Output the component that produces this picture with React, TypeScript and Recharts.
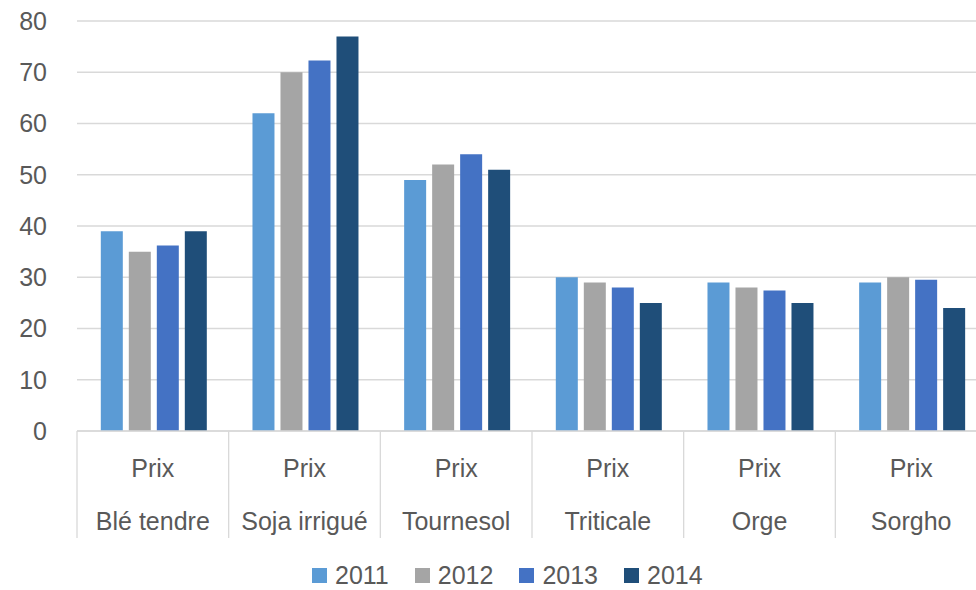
import { BarChart, Bar, XAxis, YAxis, CartesianGrid, Legend } from 'recharts';

const CATEGORIES = ['Blé tendre', 'Soja irrigué', 'Tournesol', 'Triticale', 'Orge', 'Sorgho'];
const SUB_LABEL = 'Prix';
const YEARS = ['2011', '2012', '2013', '2014'];
const V2011 = [39, 62, 49, 30, 29, 29];
const V2012 = [35, 70, 52, 29, 28, 30];
const V2013 = [36.2, 72.3, 54, 28, 27.4, 29.5];
const V2014 = [39, 77, 51, 25, 25, 24];
const Y_TICKS = [0, 10, 20, 30, 40, 50, 60, 70, 80];

const COLORS = ['#5B9BD5', '#A5A5A5', '#4472C4', '#1F4E79'];
const TEXT = '#595959';
const GRID = '#D9D9D9';
const FONT = '"Liberation Sans", Arial, sans-serif';

const W = 1000;
const H = 590;
const MARGIN = { top: 21, right: 13, left: 0, bottom: 49 };
const Y_W = 77;
const X_H = 110;
const STEP = (W - MARGIN.left - MARGIN.right - Y_W) / CATEGORIES.length;

const rows = CATEGORIES.map((name, i) => ({
  name,
  y2011: V2011[i],
  y2012: V2012[i],
  y2013: V2013[i],
  y2014: V2014[i],
}));

function CategoryTick({ x, y, payload }: { x?: number; y?: number; payload?: { value: string } }) {
  const cx = x ?? 0;
  const cy = y ?? 0;
  const left = cx - STEP / 2;
  return (
    <g>
      <line x1={left} y1={cy} x2={left} y2={cy + 107} stroke={GRID} strokeWidth={1.3} />
      <text x={cx} y={cy + 37} textAnchor="middle" dominantBaseline="central" fill={TEXT} fontSize={25} fontFamily={FONT}>
        {SUB_LABEL}
      </text>
      <text x={cx} y={cy + 90} textAnchor="middle" dominantBaseline="central" fill={TEXT} fontSize={25} fontFamily={FONT}>
        {payload?.value}
      </text>
    </g>
  );
}

function YearLegend() {
  return (
    <div
      style={{
        display: 'flex',
        alignItems: 'center',
        fontFamily: FONT,
        fontSize: 25,
        lineHeight: '24px',
        height: 24,
        whiteSpace: 'nowrap',
        color: TEXT,
      }}
    >
      {YEARS.map((yr, i) => (
        <div key={yr} style={{ display: 'flex', alignItems: 'center', marginRight: i < YEARS.length - 1 ? 26 : 0 }}>
          <span style={{ width: 15, height: 15, background: COLORS[i], display: 'inline-block', marginRight: 8 }} />
          <span>{yr}</span>
        </div>
      ))}
    </div>
  );
}

export default function App() {
  const keys = ['y2011', 'y2012', 'y2013', 'y2014'];
  return (
    <div style={{ position: 'fixed', left: 0, top: 0, width: 976, height: 590, overflow: 'hidden', background: '#fff' }}>
      <BarChart width={W} height={H} data={rows} margin={MARGIN} barCategoryGap="15.7%" barGap={6}>
        <CartesianGrid vertical={false} stroke={GRID} strokeWidth={1.3} />
        <XAxis
          dataKey="name"
          height={X_H}
          interval={0}
          tickSize={0}
          tickMargin={0}
          tickLine={false}
          axisLine={{ stroke: GRID, strokeWidth: 1.3 }}
          tick={<CategoryTick />}
        />
        <YAxis
          width={Y_W}
          domain={[0, 80]}
          ticks={Y_TICKS}
          axisLine={false}
          tickLine={false}
          tickSize={6}
          tickMargin={24}
          tick={{ fill: TEXT, fontSize: 25, fontFamily: FONT }}
        />
        <Legend
          layout="horizontal"
          verticalAlign="middle"
          align="center"
          content={<YearLegend />}
          wrapperStyle={{ position: 'absolute', left: 312, top: 563, width: 420, height: 24 }}
        />
        {keys.map((k, i) => (
          <Bar key={k} dataKey={k} name={YEARS[i]} fill={COLORS[i]} isAnimationActive={false} />
        ))}
      </BarChart>
    </div>
  );
}
